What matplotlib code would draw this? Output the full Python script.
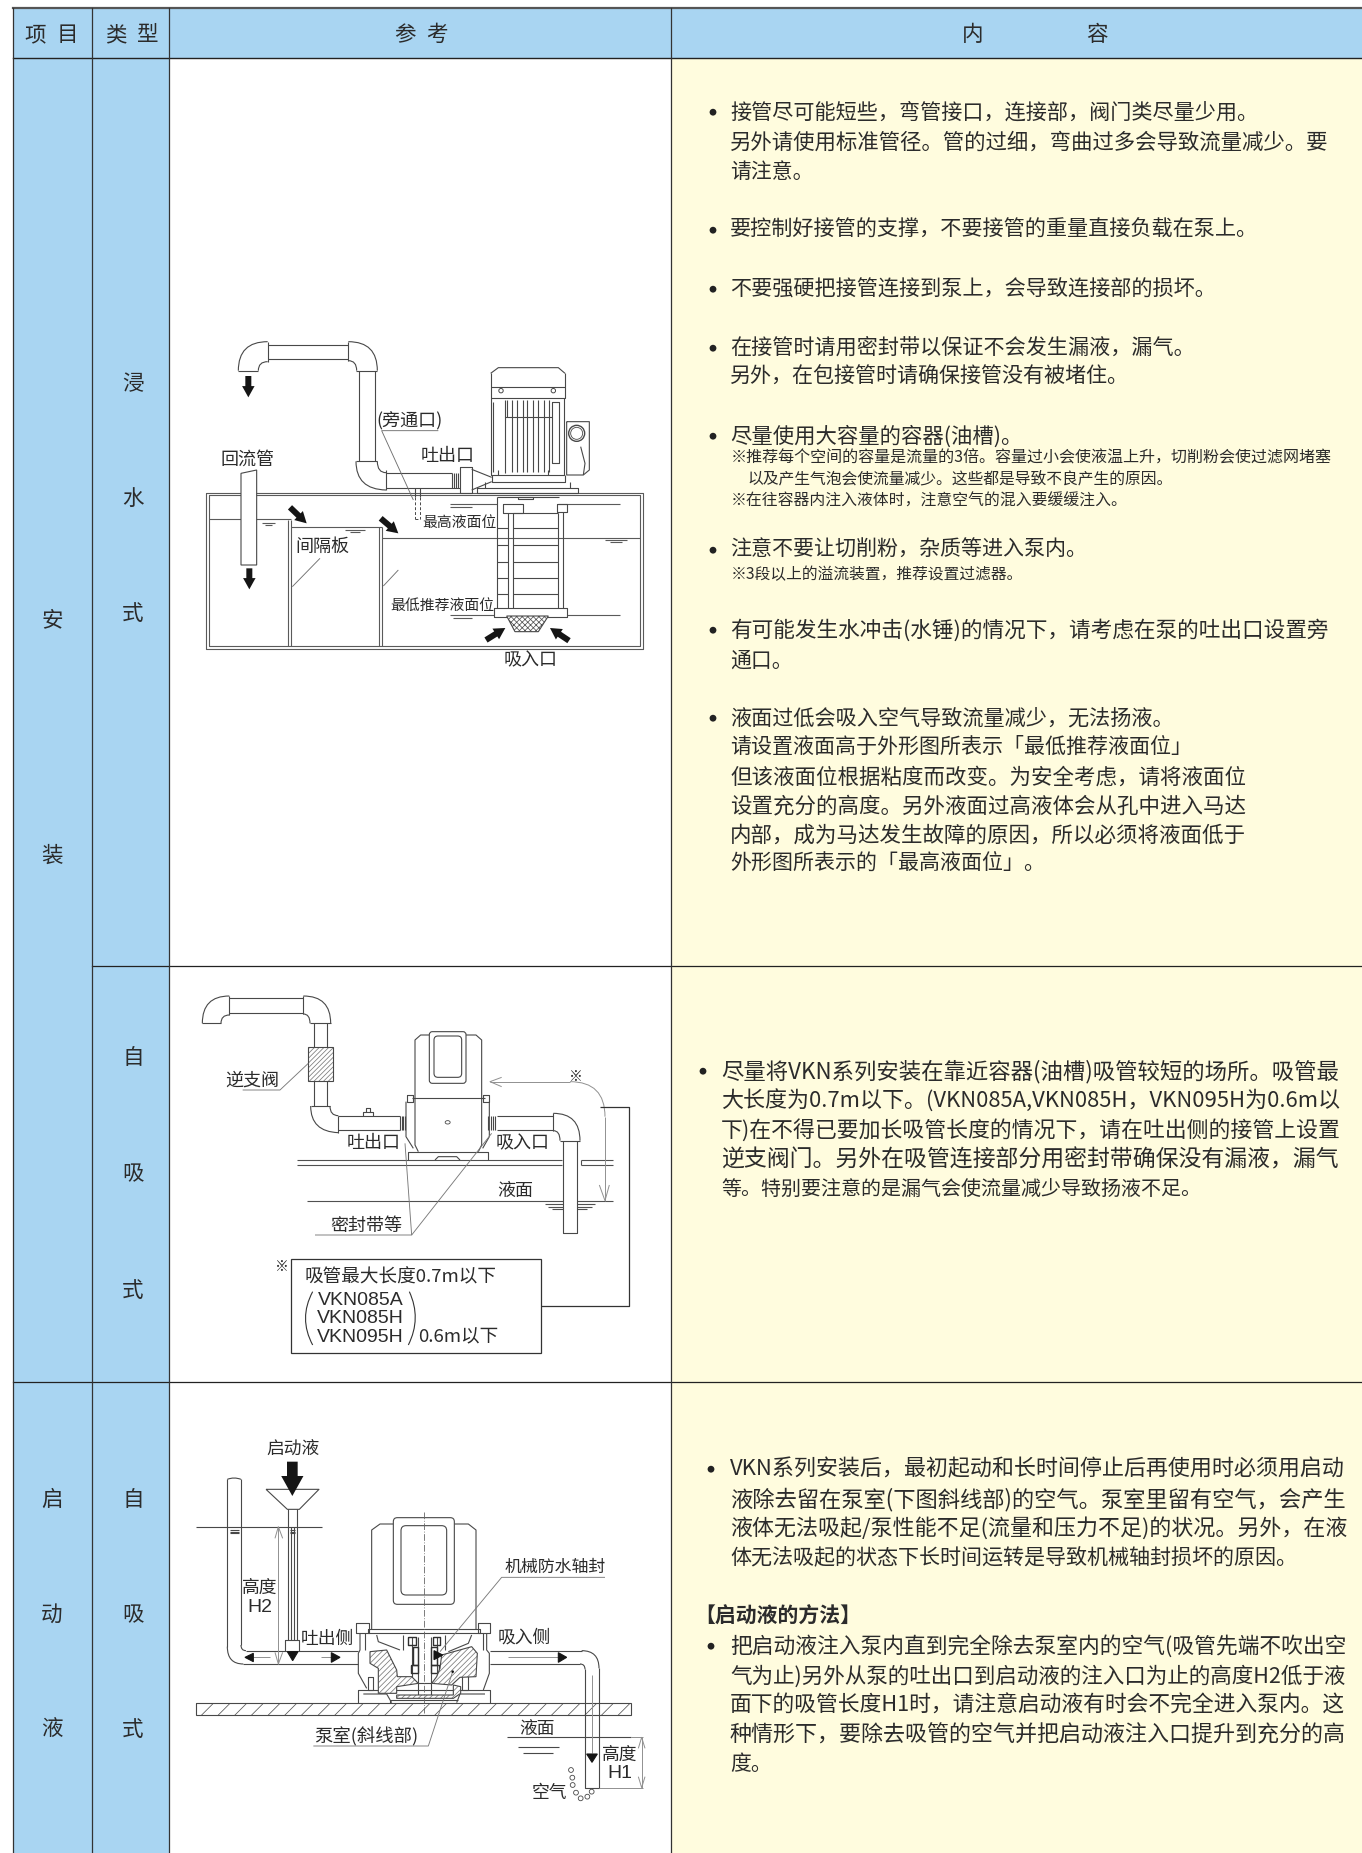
import matplotlib
matplotlib.use('Agg')
import matplotlib.pyplot as plt
from matplotlib.patches import Rectangle, Polygon, Circle, Ellipse, PathPatch, FancyBboxPatch
from matplotlib.path import Path
import numpy as np

plt.rcParams['font.family'] = ['Noto Sans CJK SC', 'DejaVu Sans']
plt.rcParams['hatch.linewidth'] = 0.55

W, H = 1362, 1853
BLUE = '#a9d5f2'
YEL = '#fffcde'
INK = '#2b2b2b'
LINE = '#484848'
GRAY = '#909090'
TEXT_DY = 2.2

# table grid
col_x = [13, 92, 169, 671]
row_y = [8, 58, 965.5, 1382, 1853]

header = [('项', 35), ('目', 67), ('类', 116), ('型', 148), ('参', 405), ('考', 437), ('内', 973), ('容', 1097)]
col_item = [('安', 618), ('装', 854), ('启', 1498), ('动', 1613), ('液', 1728)]
col_type = [('浸', 382), ('水', 497), ('式', 612), ('自', 1056), ('吸', 1172), ('式', 1289),
            ('自', 1498), ('吸', 1613), ('式', 1728)]

# body text: text, x, y, size key, right edge the line is fitted to
body = [
    ('接管尽可能短些，弯管接口，连接部，阀门类尽量少用。', 730, 110, 'n', 1258),
    ('另外请使用标准管径。管的过细，弯曲过多会导致流量减少。要', 730, 140, 'n', 1331),
    ('请注意。', 730, 170, 'n', None),
    ('要控制好接管的支撑，不要接管的重量直接负载在泵上。', 730, 228, 'n', 1259),
    ('不要强硬把接管连接到泵上，会导致连接部的损坏。', 730, 287, 'n', 1217),
    ('在接管时请用密封带以保证不会发生漏液，漏气。', 730, 346, 'n', 1195),
    ('另外，在包接管时请确保接管没有被堵住。', 730, 375, 'n', 1131),
    ('尽量使用大容量的容器(油槽)。', 730, 434, 'n', 1023),
    ('※推荐每个空间的容量是流量的3倍。容量过小会使液温上升，切削粉会使过滤网堵塞', 731, 456, 's', 1334),
    ('以及产生气泡会使流量减少。这些都是导致不良产生的原因。', 747, 477, 's', 1175),
    ('※在往容器内注入液体时，注意空气的混入要缓缓注入。', 731, 499, 's', 1128),
    ('注意不要让切削粉，杂质等进入泵内。', 730, 548, 'n', 1088),
    ('※3段以上的溢流装置，推荐设置过滤器。', 731, 572, 's', 1023),
    ('有可能发生水冲击(水锤)的情况下，请考虑在泵的吐出口设置旁', 730, 628, 'n', 1331),
    ('通口。', 730, 658, 'n', None),
    ('液面过低会吸入空气导致流量减少，无法扬液。', 730, 716, 'n', 1175),
    ('请设置液面高于外形图所表示「最低推荐液面位」', 730, 745, 'n', 1193),
    ('但该液面位根据粘度而改变。为安全考虑，请将液面位', 730, 775, 'n', 1247),
    ('设置充分的高度。另外液面过高液体会从孔中进入马达', 730, 804, 'n', 1247),
    ('内部，成为马达发生故障的原因，所以必须将液面低于', 730, 833, 'n', 1247),
    ('外形图所表示的「最高液面位」。', 730, 862, 'n', 1045),
    ('尽量将VKN系列安装在靠近容器(油槽)吸管较短的场所。吸管最', 721, 1069, 'n', 1341),
    ('大长度为0.7m以下。(VKN085A,VKN085H，VKN095H为0.6m以', 721, 1099, 'n', 1341),
    ('下)在不得已要加长吸管长度的情况下，请在吐出侧的接管上设置', 721, 1128, 'n', 1341),
    ('逆支阀门。另外在吸管连接部分用密封带确保没有漏液，漏气', 721, 1158, 'n', 1341),
    ('等。特别要注意的是漏气会使流量减少导致扬液不足。', 721, 1187, 'n', 1203),
    ('VKN系列安装后，最初起动和长时间停止后再使用时必须用启动', 730, 1467, 'n', 1348),
    ('液除去留在泵室(下图斜线部)的空气。泵室里留有空气，会产生', 730, 1497, 'n', 1348),
    ('液体无法吸起/泵性能不足(流量和压力不足)的状况。另外，在液', 730, 1526, 'n', 1348),
    ('体无法吸起的状态下长时间运转是导致机械轴封损坏的原因。', 730, 1556, 'n', 1300),
    ('把启动液注入泵内直到完全除去泵室内的空气(吸管先端不吹出空', 730, 1644, 'n', 1348),
    ('气为止)另外从泵的吐出口到启动液的注入口为止的高度H2低于液', 730, 1674, 'n', 1348),
    ('面下的吸管长度H1时，请注意启动液有时会不完全进入泵内。这', 730, 1703, 'n', 1348),
    ('种情形下，要除去吸管的空气并把启动液注入口提升到充分的高', 730, 1733, 'n', 1348),
    ('度。', 730, 1762, 'n', None),
]
bullets = [(713, 110), (713, 228), (713, 287), (713, 346), (713, 434), (713, 548), (713, 628), (713, 716),
           (703, 1069), (711, 1467), (711, 1644)]

# drawing 1: overflow tank, coordinates are 3x px from org1
org1 = (170, 300)
tank1 = [[(108, 578), (1418, 578), (1418, 1046), (108, 1046), (108, 578)],
         [(116, 586), (1410, 586), (1410, 1038), (116, 1038), (116, 586)],
         [(355, 660), (355, 1038)], [(364, 660), (364, 1038)],
         [(628, 680), (628, 1038)], [(637, 680), (637, 1038)],
         [(116, 658), (364, 658)], [(364, 680), (637, 680)],
         [(637, 713), (1410, 713)], [(840, 612), (980, 612)], [(1165, 612), (1350, 612)],
         [(840, 945), (972, 945)], [(1190, 945), (1350, 945)],
         [(275, 668), (315, 668)], [(285, 674), (305, 674)], [(525, 689), (585, 689)], [(540, 695), (570, 695)],
         [(1305, 720), (1370, 720)], [(1320, 727), (1355, 727)],
         [(840, 620), (905, 620)], [(850, 953), (905, 953)]]
pipes1 = [[(205, 212), (265, 212)], [(293, 125), (293, 185)],
          [(293, 135), (535, 135)], [(293, 178), (535, 178)],
          [(535, 125), (535, 182)], [(558, 212), (622, 212)],
          [(568, 212), (568, 482)], [(615, 212), (615, 482)],
          [(558, 484), (622, 484)], [(648, 510), (648, 570)],
          [(648, 518), (845, 518)], [(648, 565), (870, 565)],
          [(845, 518), (845, 565)], [(852, 518), (852, 565)], [(858, 518), (858, 565)], [(864, 518), (864, 565)],
          [(870, 500), (905, 500), (905, 578), (870, 578), (870, 500)],
          [(905, 508), (965, 532)], [(905, 570), (965, 545)],
          [(735, 565), (735, 590)], [(750, 565), (750, 590)]]
curves1 = [((205, 212), (205, 125), (293, 125)), ((265, 212), (265, 185), (293, 185)),
           ((535, 125), (622, 125), (622, 212)), ((535, 182), (560, 182), (560, 212)),
           ((558, 484), (558, 568), (648, 570)), ((622, 484), (622, 518), (648, 518))]
dash1 = [[(735, 590), (735, 658)], [(750, 590), (750, 658)], [(735, 658), (750, 658)]]
motor1 = [[(962, 220), (985, 203), (1165, 203), (1185, 220)],
          [(962, 220), (962, 295), (1185, 295), (1185, 220)],
          [(962, 260), (1185, 260)],
          [(962, 295), (962, 525), (1183, 525), (1183, 295)],
          [(970, 305), (970, 515)], [(1005, 350), (1145, 350)], [(1005, 300), (1005, 520)],
          [(1145, 305), (1168, 305), (1168, 490), (1145, 490), (1145, 305)],
          [(1012, 300), (1012, 350)], [(1027, 300), (1027, 515)], [(1040, 300), (1040, 515)],
          [(1058, 300), (1058, 515)], [(1072, 300), (1072, 515)], [(1090, 300), (1090, 515)],
          [(1105, 300), (1105, 515)], [(1122, 300), (1122, 515)], [(1137, 300), (1137, 515)],
          [(965, 525), (965, 545), (1185, 545), (1185, 525)], [(985, 510), (985, 525)], [(1135, 510), (1135, 525)],
          [(1190, 365), (1258, 365), (1258, 510), (1240, 525), (1190, 525), (1190, 365)],
          [(1232, 440), (1245, 490), (1240, 525)],
          [(945, 545), (945, 565)], [(1200, 545), (1200, 565)],
          [(920, 565), (1225, 565), (1225, 578), (920, 578), (920, 565)]]
column1 = [[(980, 590), (980, 925)], [(1015, 640), (1015, 925)], [(1028, 640), (1028, 925)],
           [(1165, 640), (1165, 925)], [(1180, 635), (1180, 925)], [(980, 590), (1168, 590)],
           [(1045, 590), (1090, 590), (1090, 598), (1045, 598), (1045, 590)],
           [(1000, 612), (1058, 612), (1058, 640), (1000, 640), (1000, 612)],
           [(1160, 612), (1190, 612), (1190, 635), (1160, 635), (1160, 612)],
           [(972, 925), (1190, 925), (1190, 950), (972, 950), (972, 925)],
           [(1028, 640), (1165, 640)], [(1028, 685), (1165, 685)], [(1028, 735), (1165, 735)],
           [(1028, 785), (1165, 785)], [(1028, 835), (1165, 835)], [(1028, 882), (1165, 882)],
           [(980, 685), (1015, 685)], [(980, 735), (1015, 735)], [(980, 785), (1015, 785)],
           [(980, 835), (1015, 835)], [(980, 882), (1015, 882)]]
leaders1 = [[(805, 392), (635, 392), (730, 600)], [(367, 860), (450, 775)], [(640, 858), (685, 810)]]
fat1 = [((235, 228), (235, 292)), ((238, 805), (238, 868)), ((360, 622), (410, 670)), ((632, 655), (685, 700)),
        ((948, 1020), (1006, 984)), ((1197, 1022), (1140, 984))]
labels1 = [('(旁通口)', 720, 357, 13), ('吐出口', 833, 460, 13), ('回流管', 232, 472, 13), ('间隔板', 457, 735, 13),
           ('最高液面位', 867, 662, 10.7), ('最低推荐液面位', 818, 912, 10.7), ('吸入口', 1082, 1075, 13)]

# drawing 2: self priming install, coordinates are 3x px from org2
org2 = (170, 970)
pipes2 = [[(97, 160), (153, 160)], [(178, 78), (178, 135)],
          [(178, 85), (400, 85)], [(178, 128), (400, 128)],
          [(400, 78), (400, 132)], [(420, 160), (482, 160)],
          [(432, 160), (432, 232)], [(472, 160), (472, 232)], [(432, 332), (432, 408)], [(472, 332), (472, 408)],
          [(422, 408), (480, 408)], [(505, 437), (505, 488)],
          [(505, 438), (690, 438)], [(505, 480), (690, 480)],
          [(690, 438), (690, 480)], [(695, 438), (695, 480)], [(700, 438), (700, 480)], [(705, 438), (705, 480)],
          [(955, 438), (955, 480)], [(962, 438), (962, 480)], [(969, 438), (969, 480)], [(976, 438), (976, 480)],
          [(578, 438), (578, 425), (608, 425), (608, 438)], [(587, 425), (587, 414), (600, 414), (600, 425)],
          [(980, 438), (1150, 438)], [(980, 480), (1150, 480)],
          [(1150, 430), (1150, 482)], [(1170, 512), (1230, 512)],
          [(1178, 512), (1178, 790), (1220, 790), (1220, 512)]]
curves2 = [((97, 160), (97, 78), (178, 78)), ((153, 160), (153, 135), (178, 135)),
           ((400, 78), (482, 78), (482, 160)), ((400, 132), (420, 132), (420, 160)),
           ((422, 408), (422, 485), (505, 488)), ((480, 408), (480, 437), (505, 437)),
           ((1150, 430), (1230, 430), (1230, 512)), ((1150, 482), (1170, 482), (1170, 512))]
pump2 = [[(735, 385), (735, 210), (752, 195), (778, 195)], [(888, 195), (918, 195), (935, 210), (935, 385)],
         [(725, 385), (945, 385)], [(735, 385), (735, 525), (745, 545)], [(935, 385), (935, 525), (925, 545)],
         [(715, 570), (715, 545), (955, 545), (955, 570)], [(795, 570), (805, 560), (860, 560), (870, 570)],
         [(712, 375), (730, 375), (730, 395), (712, 395), (712, 375)],
         [(938, 375), (956, 375), (956, 395), (938, 395), (938, 375)],
         [(708, 395), (708, 500), (730, 535)], [(958, 395), (958, 500), (938, 535)]]
floor2 = [[(382, 570), (1175, 570)], [(382, 585), (1175, 585)], [(1232, 570), (1330, 570)], [(1232, 585), (1330, 585)],
          [(1232, 570), (1232, 585)], [(412, 692), (1178, 692)], [(1220, 692), (1330, 692)],
          [(1125, 703), (1178, 703)], [(1220, 703), (1275, 703)], [(1135, 710), (1178, 710)],
          [(1220, 710), (1265, 710)], [(1145, 716), (1178, 716)], [(1220, 716), (1250, 716)]]
wire2 = [[(1290, 412), (1376, 412), (1376, 1007), (1113, 1007)]]
grey2 = [[(960, 335), (1200, 335)], [(1305, 440), (1305, 692)],
         [(995, 322), (960, 335), (995, 350)], [(1288, 645), (1305, 692), (1318, 645)]]
grey_curve2 = [((1200, 335), (1305, 335), (1305, 440))]
leaders2 = [[(218, 360), (330, 360), (415, 280)], [(435, 795), (725, 795), (705, 520)], [(725, 795), (965, 490)]]
labels2 = [('逆支阀', 248, 325, 13), ('吐出口', 612, 512, 13), ('吸入口', 1057, 512, 13), ('液面', 1037, 655, 13),
           ('密封带等', 590, 760, 13), ('※', 1217, 315, 10), ('※', 335, 885, 10)]
box_text = [('吸管最大长度0.7m以下', 403, 915, 13.4), ('0.6m以下', 745, 1097, 13.4)]
models = [('VKN085A', 985), ('VKN085H', 1038), ('VKN095H', 1095)]
parens2 = [((428, 965), (385, 1045), (428, 1125)), ((718, 965), (755, 1045), (715, 1125))]

# drawing 3: priming, coordinates are 3x px from org3
org3 = (170, 1420)
floor3 = [(78, 850), (1382, 885)]
pipes3 = [[(172, 178), (172, 680)], [(213, 178), (213, 675)],
          [(228, 692), (345, 692)], [(388, 692), (565, 692)], [(220, 732), (565, 732)],
          [(288, 208), (447, 208), (388, 268), (352, 268), (288, 208)],
          [(353, 268), (353, 660)], [(380, 268), (380, 660)], [(362, 320), (362, 660)], [(372, 320), (372, 660)],
          [(345, 660), (388, 660), (388, 692), (345, 692), (345, 660)],
          [(960, 692), (1235, 692)], [(960, 732), (1230, 732)],
          [(1287, 745), (1287, 1103), (1245, 1103), (1245, 748)],
          [(78, 320), (457, 320)], [(180, 330), (206, 330)], [(180, 335), (206, 335)], [(180, 340), (206, 340)],
          [(360, 330), (375, 330)], [(360, 335), (375, 335)], [(360, 340), (375, 340)],
          [(1012, 952), (1382, 952)], [(1045, 982), (1168, 982)], [(1060, 998), (1150, 998)]]
curves3 = [((172, 680), (172, 732), (220, 732)), ((213, 675), (213, 692), (228, 692)),
           ((1235, 692), (1287, 692), (1287, 745)), ((1230, 732), (1245, 732), (1245, 748))]
wavy3 = [((172, 178), (192, 170), (213, 178))]
pump3 = [[(605, 628), (605, 330), (630, 312), (670, 312)], [(853, 312), (895, 312), (918, 330), (918, 628)],
         [(595, 628), (930, 628), (930, 640), (595, 640), (595, 628)],
         [(558, 610), (598, 610), (598, 640), (558, 640), (558, 610)],
         [(925, 610), (960, 610), (960, 640), (925, 640), (925, 610)],
         [(570, 640), (570, 690), (565, 700), (565, 760), (590, 805)],
         [(950, 640), (950, 690), (958, 700), (958, 760), (940, 810)],
         [(565, 850), (565, 810), (960, 810), (960, 850)], [(580, 822), (650, 822), (665, 848)],
         [(945, 822), (870, 822), (860, 848)], [(660, 850), (660, 840), (865, 840)],
         [(745, 650), (745, 790)], [(782, 650), (782, 790)], [(745, 790), (782, 790), (782, 825), (745, 825), (745, 790)],
         [(725, 650), (725, 770)], [(800, 650), (800, 770)], [(700, 645), (700, 690)], [(825, 645), (825, 690)],
         [(620, 645), (625, 665), (690, 690)], [(905, 645), (895, 670), (835, 695)],
         [(585, 640), (585, 690)], [(940, 640), (940, 690)], [(595, 770), (595, 810), (610, 810), (610, 770), (595, 770)],
         [(875, 760), (875, 810), (895, 810), (895, 760), (875, 760)]]
bearings3 = [[(715, 650), (738, 650), (738, 675), (715, 675), (715, 650)],
             [(788, 650), (810, 650), (810, 675), (788, 675), (788, 650)],
             [(730, 680), (745, 680), (745, 735), (730, 735), (730, 680)],
             [(782, 680), (800, 680), (800, 735), (782, 735), (782, 680)],
             [(722, 735), (745, 735), (745, 760), (722, 760), (722, 735)],
             [(782, 735), (806, 735), (806, 760), (782, 760), (782, 735)]]
hatch_left = [(600, 695), (650, 690), (680, 750), (682, 770), (725, 770), (745, 790), (680, 800), (680, 820), (625, 820),
              (625, 745), (600, 730)]
hatch_right = [(815, 705), (905, 680), (922, 700), (918, 770), (870, 772), (845, 795), (785, 790), (800, 770), (810, 745)]
hatch_low = [(680, 825), (850, 825), (850, 795), (872, 800), (872, 820), (850, 835), (680, 835)]
center3 = [(762, 275), (762, 880)]
grey3 = [[(325, 320), (325, 732)], [(315, 355), (325, 320), (338, 355)], [(315, 697), (325, 732), (338, 697)],
         [(1415, 952), (1415, 1103)], [(1405, 985), (1415, 952), (1425, 985)], [(1405, 1070), (1415, 1103), (1425, 1070)],
         [(1287, 1103), (1420, 1103)], [(1382, 952), (1420, 952)],
         [(452, 712), (485, 712)], [(250, 712), (300, 712)], [(1015, 712), (1165, 712)], [(1265, 765), (1265, 1000)]]
leaders3 = [[(1305, 472), (995, 472), (810, 695)], [(430, 978), (775, 978), (848, 755)]]
fat3 = [((367, 125), (367, 228))]
tris3 = [[(225, 712), (250, 700), (250, 725)], [(352, 695), (384, 695), (368, 722)], [(510, 712), (484, 698), (484, 727)],
         [(818, 705), (792, 692), (792, 719)], [(1190, 712), (1165, 698), (1165, 727)], [(1250, 1002), (1282, 1002), (1266, 1027)]]
bubbles3 = [(1203, 1050), (1207, 1073), (1208, 1095), (1218, 1118), (1232, 1135), (1252, 1130), (1265, 1115)]
labels3 = [('启动液', 370, 80, 12.8), ('高度', 270, 498, 12.8), ('吐出侧', 473, 650, 12.8), ('吸入侧', 1062, 647, 12.8),
           ('机械防水轴封', 1155, 435, 12.2), ('泵室(斜线部)', 590, 945, 13.2), ('液面', 1100, 920, 12.8),
           ('高度', 1350, 998, 12.8), ('空气', 1138, 1112, 12.8)]
latin3 = [('H2', 270, 556), ('H1', 1350, 1055)]

fig = plt.figure(figsize=(W / 100, H / 100), dpi=100)
ax = fig.add_axes([0, 0, 1, 1])
ax.set_xlim(0, W)
ax.set_ylim(H, 0)
ax.axis('off')


def put(org, pts):
    return [(org[0] + p[0] / 3, org[1] + p[1] / 3) for p in pts]


def polylines(org, lines, color=LINE, lw=0.8, ls='-', z=3):
    for pts in lines:
        xy = np.array(put(org, pts))
        ax.plot(xy[:, 0], xy[:, 1], color=color, lw=lw, ls=ls, zorder=z, solid_capstyle='butt')


def curves(org, items, color=LINE, lw=0.8, z=3):
    for c in items:
        path = Path(put(org, c), [Path.MOVETO, Path.CURVE3, Path.CURVE3])
        ax.add_patch(PathPatch(path, fc='none', ec=color, lw=lw, zorder=z))


def fat_arrow(org, a, b, scale=9, z=5):
    (x0, y0), (x1, y1) = put(org, [a, b])
    ax.annotate('', xy=(x1, y1), xytext=(x0, y0), zorder=z,
                arrowprops=dict(arrowstyle='simple,head_width=1.0,head_length=0.9,tail_width=0.48',
                                color='#151515', lw=0, shrinkA=0, shrinkB=0, mutation_scale=scale))


def block(org, pts, fc='white', ec=LINE, lw=0.8, z=2, hatch=None):
    ax.add_patch(Polygon(put(org, pts), closed=True, fc=fc, ec=ec, lw=lw, zorder=z, hatch=hatch))


def hatched(org, pts, z=4, hatch='//////', color='#7a7a7a'):
    # hatch takes the edge colour, so the outline goes on top as its own patch
    ax.add_patch(Polygon(put(org, pts), closed=True, fc='white', ec=color, lw=0, zorder=z, hatch=hatch))
    ax.add_patch(Polygon(put(org, pts), closed=True, fc='none', ec=LINE, lw=0.8, zorder=z + 0.1))


def labels(org, items):
    for s, x, y, size in items:
        px = put(org, [(x, y)])[0]
        ax.text(px[0], px[1] + TEXT_DY, s, fontsize=size, color=INK, ha='center', va='center', zorder=7)


# table backgrounds
ax.add_patch(Rectangle((col_x[0], row_y[0]), W - col_x[0], row_y[1] - row_y[0], fc=BLUE, ec='none'))
ax.add_patch(Rectangle((col_x[0], row_y[1]), col_x[2] - col_x[0], H - row_y[1], fc=BLUE, ec='none'))
ax.add_patch(Rectangle((col_x[3], row_y[1]), W - col_x[3], H - row_y[1], fc=YEL, ec='none'))

# table grid
ax.plot([col_x[0], W], [row_y[0], row_y[0]], color='#555555', lw=1.6)
ax.plot([col_x[0], W], [row_y[1], row_y[1]], color='#222222', lw=1.0)
ax.plot([col_x[1], W], [row_y[2], row_y[2]], color='#222222', lw=0.9)
ax.plot([col_x[0], W], [row_y[3], row_y[3]], color='#222222', lw=0.9)
for x in col_x:
    ax.plot([x, x], [row_y[0], H], color='#333333', lw=0.9)

for s, x in header:
    ax.text(x, 33 + TEXT_DY, s, fontsize=15.5, color=INK, ha='center', va='center')
for s, y in col_item:
    ax.text(52, y + TEXT_DY, s, fontsize=15.5, color=INK, ha='center', va='center')
for s, y in col_type:
    ax.text(133, y + TEXT_DY, s, fontsize=15.5, color=INK, ha='center', va='center')

# body text, lines with a right edge get fitted to it
renderer = fig.canvas.get_renderer()
sizes = {'n': 15.0, 's': 11.4}
for s, x, y, key, right in body:
    t = ax.text(x, y + TEXT_DY, s, fontsize=sizes[key], color=INK, ha='left', va='center')
    if right is not None:
        w = t.get_window_extent(renderer).width
        t.set_fontsize(sizes[key] * (right - x) / w)
for x, y in bullets:
    ax.add_patch(Circle((x, y + TEXT_DY), 3.4, fc='#222222', ec='none', zorder=4))
ax.text(694, 1614 + TEXT_DY, '【启动液的方法】', fontsize=15, fontweight='bold', color=INK, ha='left', va='center')

# drawing 1
polylines(org1, tank1, color='#5a5a5a', lw=0.8)
block(org1, [(213, 520), (260, 510), (260, 795), (213, 795)], z=3)
polylines(org1, pipes1)
curves(org1, curves1)
polylines(org1, dash1, ls=(0, (3, 2)), lw=0.7)
block(org1, [(962, 205), (1185, 205), (1185, 545), (962, 545)], ec='none', z=2)
block(org1, [(980, 590), (1180, 590), (1180, 925), (980, 925)], ec='none', z=2)
polylines(org1, motor1)
polylines(org1, column1)
for c in [(993, 272), (1150, 272)]:
    px = put(org1, [c])[0]
    ax.add_patch(Circle(px, 2.2, fc='none', ec=LINE, lw=0.7, zorder=4))
px = put(org1, [(1220, 400)])[0]
ax.add_patch(Circle(px, 8, fc='none', ec=LINE, lw=1.0, zorder=4))
ax.add_patch(Circle(px, 6, fc='none', ec=LINE, lw=0.6, zorder=4))
hatched(org1, [(1010, 948), (1135, 948), (1105, 995), (1035, 995)], hatch='xxxxxx', color='#555555')
polylines(org1, leaders1, color='#707070', lw=0.65, z=4)
for a, b in fat1:
    fat_arrow(org1, a, b)
labels(org1, labels1)

# drawing 2
polylines(org2, floor2, color='#505050', lw=0.8)
block(org2, [(1178, 512), (1220, 512), (1220, 790), (1178, 790)], ec='none', z=2)
polylines(org2, pipes2)
curves(org2, curves2)
hatched(org2, [(415, 232), (490, 232), (490, 332), (415, 332)], z=3, hatch='///////')
polylines(org2, pump2)
px = put(org2, [(778, 185), (888, 340)])
ax.add_patch(FancyBboxPatch(px[0], px[1][0] - px[0][0], px[1][1] - px[0][1], boxstyle='round,pad=0,rounding_size=3',
                            fc='white', ec=LINE, lw=0.8, zorder=3))
px = put(org2, [(792, 198), (875, 322)])
ax.add_patch(FancyBboxPatch(px[0], px[1][0] - px[0][0], px[1][1] - px[0][1], boxstyle='round,pad=0,rounding_size=4',
                            fc='white', ec=LINE, lw=0.8, zorder=3))
ax.add_patch(Ellipse(put(org2, [(833, 457)])[0], 5, 3.4, fc='none', ec=LINE, lw=0.6, zorder=3))
polylines(org2, grey2, color=GRAY, lw=0.7)
curves(org2, grey_curve2, color=GRAY, lw=0.7)
polylines(org2, leaders2, color='#7a7a7a', lw=0.65, z=4)
polylines(org2, wire2, color='#333333', lw=0.9)
block(org2, [(362, 868), (1113, 868), (1113, 1148), (362, 1148)], ec='#333333', lw=0.9, z=3)
curves(org2, parens2, color='#333333', lw=0.8, z=4)
labels(org2, labels2)
for s, x, y, size in box_text:
    px = put(org2, [(x, y)])[0]
    ax.text(px[0], px[1] + TEXT_DY, s, fontsize=size, color=INK, ha='left', va='center', zorder=7)
for s, y in models:
    px = put(org2, [(572, y)])[0]
    ax.text(px[0], px[1] + TEXT_DY, s, fontsize=14, color=INK, ha='center', va='center', family='Liberation Sans', zorder=7)

# drawing 3
hatched(org3, [floor3[0], (floor3[1][0], floor3[0][1]), floor3[1], (floor3[0][0], floor3[1][1])], z=2, hatch='//', color='#555555')
polylines(org3, pipes3)
curves(org3, curves3)
curves(org3, wavy3)
polylines(org3, pump3)
polylines(org3, bearings3, color='#303030', lw=1.0)
for corners, rad in [(((670, 293), (853, 553)), 4), (((693, 317), (830, 525)), 5)]:
    px = put(org3, corners)
    ax.add_patch(FancyBboxPatch(px[0], px[1][0] - px[0][0], px[1][1] - px[0][1],
                                boxstyle='round,pad=0,rounding_size=%d' % rad, fc='white', ec=LINE, lw=0.8, zorder=3))
for h in (hatch_left, hatch_right, hatch_low):
    hatched(org3, h, z=4)
cx = np.array(put(org3, center3))
ax.plot(cx[:, 0], cx[:, 1], color='#666666', lw=0.6, ls=(0, (8, 2, 1, 2)), zorder=5)
polylines(org3, grey3, color=GRAY, lw=0.7, z=4)
polylines(org3, leaders3, color='#7a7a7a', lw=0.65, z=6)
ax.add_patch(Circle(put(org3, [(848, 755)])[0], 1.3, fc='#111111', ec='none', zorder=6))
for a, b in fat3:
    fat_arrow(org3, a, b, scale=16)
for tri in tris3:
    block(org3, tri, fc='#151515', ec='#151515', z=6)
for b in bubbles3:
    ax.add_patch(Circle(put(org3, [b])[0], 2.4, fc='white', ec=LINE, lw=0.6, zorder=5))
labels(org3, labels3)
for s, x, y in latin3:
    px = put(org3, [(x, y)])[0]
    ax.text(px[0], px[1] + TEXT_DY, s, fontsize=14, color=INK, ha='center', va='center', family='Liberation Sans', zorder=7)

fig.savefig('out.png', dpi=100, facecolor='white')
